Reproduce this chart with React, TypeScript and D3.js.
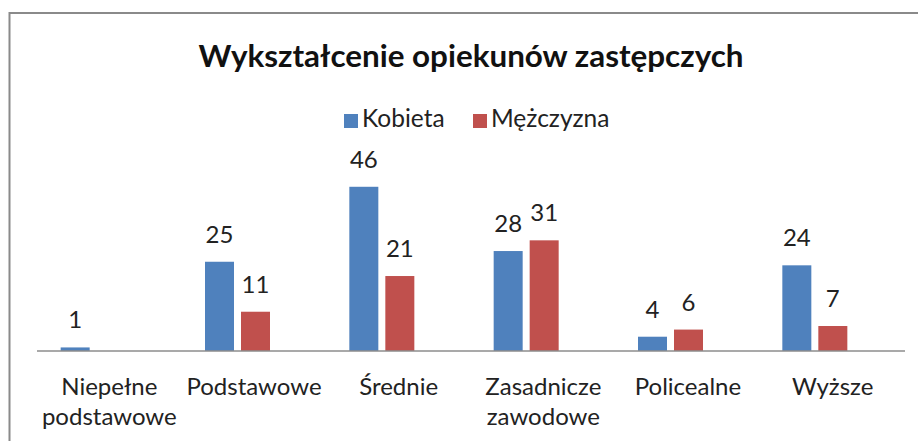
import React, { useEffect, useRef } from "react";
import * as d3 from "d3";

const categories = ["Niepełne podstawowe", "Podstawowe", "Średnie", "Zasadnicze zawodowe", "Policealne", "Wyższe"];
const seriesNames = ["Kobieta", "Mężczyzna"];
const kobieta = [1, 25, 46, 28, 4, 24];
const mezczyzna = [null, 11, 21, 31, 6, 7];
const colors = ["#4F81BD", "#C0504D"];
const title = "Wykształcenie opiekunów zastępczych";

const App = () => {
  const svgRef = useRef<SVGSVGElement>(null);

  useEffect(() => {
    const width = 918;
    const height = 441;
    const font = "Lato, 'Open Sans', sans-serif";

    const svg = d3.select(svgRef.current).attr("width", width).attr("height", height);
    svg.selectAll("*").remove();

    // chart frame (runs off the right/bottom edge like the screenshot)
    svg.append("rect")
      .attr("x", 9.5).attr("y", 13)
      .attr("width", width + 20).attr("height", height + 20)
      .attr("fill", "white").attr("stroke", "#8a8a8a").attr("stroke-width", 2);

    svg.append("text")
      .attr("x", 471).attr("y", 67)
      .attr("text-anchor", "middle")
      .style("font-family", font).style("font-weight", "bold").style("font-size", "31.4px")
      .attr("fill", "#111")
      .text(title);

    // legend
    const legendX = [344, 473];
    const legend = svg.append("g");
    seriesNames.forEach((name, i) => {
      legend.append("rect")
        .attr("x", legendX[i]).attr("y", 114).attr("width", 14).attr("height", 14)
        .attr("fill", colors[i]);
      legend.append("text")
        .attr("x", legendX[i] + 18).attr("y", 127)
        .style("font-family", font).style("font-size", "24.5px")
        .attr("fill", "#222")
        .text(name);
    });

    const baseline = 351;
    const y = d3.scaleLinear().domain([0, 50]).range([baseline, 172.5]);
    const xLabel = d3.scaleBand().domain(categories).range([37, 905]);
    const xBar = d3.scaleBand().domain(categories).range([21, 887]);
    const inner = d3.scalePoint().domain(seriesNames).range([-18, 18]);
    const barW = 29;

    const series = [kobieta, mezczyzna];
    const flat: { cat: string; s: string; v: number; i: number }[] = [];
    series.forEach((vals, si) => {
      vals.forEach((v, ci) => {
        if (v != null) flat.push({ cat: categories[ci], s: seriesNames[si], v, i: si });
      });
    });

    const bars = svg.append("g");
    bars.selectAll("rect")
      .data(flat)
      .enter()
      .append("rect")
      .attr("x", (d) => xBar(d.cat)! + xBar.bandwidth() / 2 + inner(d.s)! - barW / 2)
      .attr("y", (d) => y(d.v))
      .attr("width", barW)
      .attr("height", (d) => baseline - y(d.v))
      .attr("fill", (d) => colors[d.i]);

    bars.selectAll("text")
      .data(flat)
      .enter()
      .append("text")
      .attr("x", (d) => xBar(d.cat)! + xBar.bandwidth() / 2 + inner(d.s)!)
      .attr("y", (d) => y(d.v) - 19)
      .attr("text-anchor", "middle")
      .style("font-family", font).style("font-size", "24px")
      .attr("fill", "#222")
      .text((d) => d.v);

    // category axis
    svg.append("line")
      .attr("x1", 37).attr("x2", 905)
      .attr("y1", baseline).attr("y2", baseline)
      .attr("stroke", "#8c8c8c").attr("stroke-width", 1.5);

    const labels = svg.append("g");
    categories.forEach((c) => {
      const words = c.split(" ");
      const t = labels.append("text")
        .attr("x", xLabel(c)! + xLabel.bandwidth() / 2)
        .attr("y", 395)
        .attr("text-anchor", "middle")
        .style("font-family", font).style("font-size", "24px")
        .attr("fill", "#222");
      words.forEach((w, wi) => {
        t.append("tspan")
          .attr("x", xLabel(c)! + xLabel.bandwidth() / 2)
          .attr("dy", wi === 0 ? 0 : 30)
          .text(w);
      });
    });
  }, []);

  return (
    <div style={{ position: "absolute", left: 0, top: 0 }}>
      <svg ref={svgRef} style={{ display: "block" }}></svg>
    </div>
  );
};

export default App;
